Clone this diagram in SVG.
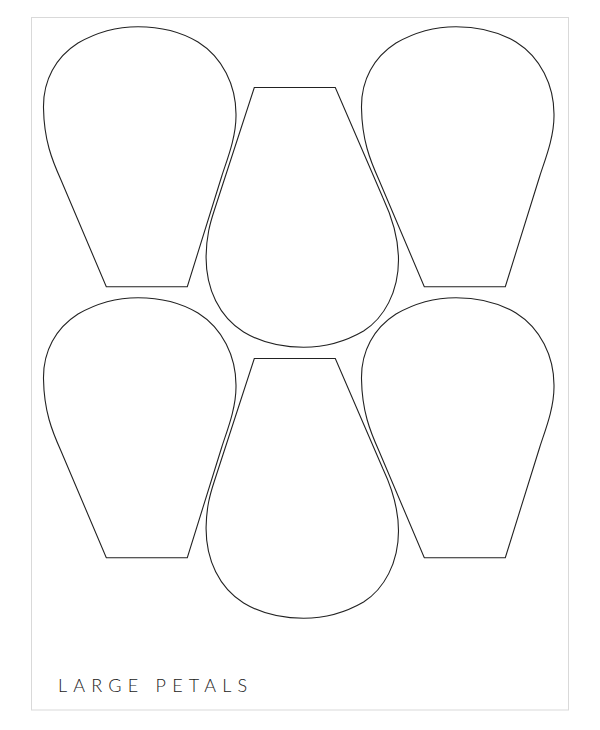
<svg xmlns="http://www.w3.org/2000/svg" xmlns:xlink="http://www.w3.org/1999/xlink" width="600" height="730" viewBox="0 0 600 730">
  <style>
    .page { fill: #ffffff; stroke: #d9d9d9; stroke-width: 1; }
    .petal { fill: #ffffff; stroke: #222222; stroke-width: 1.1; stroke-linejoin: miter; }
    .title { font-family: Lato, "Liberation Sans", sans-serif; font-weight: 300; font-size: 18px; letter-spacing: 6.2px; fill: #1a1a1a; }
  </style>
  <defs>
    <path id="outerPetal" d="M106.3,286.7 L187.3,286.7 L221.8,176 C226.5,161 236,138 236,116 C236.5,85 222,57 198,42 C178,30 158,26.7 138,26.7 C118,26.7 97,32 78,43 C56,57 43,80 43.5,108 C44,140 52,160 61,180 Z"/>
    <path id="middlePetal" d="M254.3,87.5 L335.3,87.5 L383,198 C391,215 398.5,235 398.5,260 C398.5,292 384,318 363.6,331 C344.6,342 323.6,347.3 303.6,347.3 C283.6,347.3 263.6,344 243.6,332 C219.6,317 205.6,289 206.1,256 C206.5,236 209.8,224 214.4,210 Z"/>
  </defs>
  <rect x="0" y="0" width="600" height="730" fill="#ffffff"/>
  <rect class="page" x="31.5" y="17.5" width="537" height="692.5"/>
  <g id="petal-top-left"><use xlink:href="#outerPetal" href="#outerPetal" class="petal"/></g>
  <g id="petal-top-right"><use xlink:href="#outerPetal" href="#outerPetal" class="petal" transform="translate(318,0)"/></g>
  <g id="petal-top-middle"><use xlink:href="#middlePetal" href="#middlePetal" class="petal"/></g>
  <g id="petal-bottom-left"><use xlink:href="#outerPetal" href="#outerPetal" class="petal" transform="translate(0,271)"/></g>
  <g id="petal-bottom-right"><use xlink:href="#outerPetal" href="#outerPetal" class="petal" transform="translate(318,271)"/></g>
  <g id="petal-bottom-middle"><use xlink:href="#middlePetal" href="#middlePetal" class="petal" transform="translate(0,271)"/></g>
  <g id="connectors"/>
  <text class="title" x="58" y="692">LARGE PETALS</text>
</svg>
